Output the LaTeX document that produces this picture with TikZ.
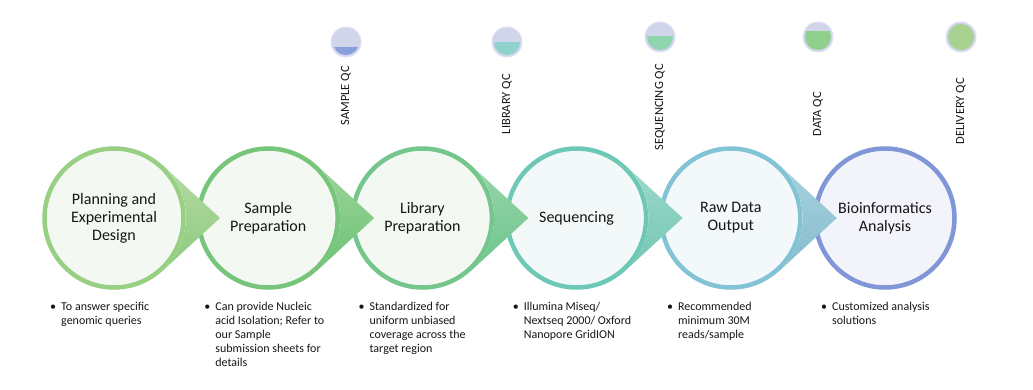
\documentclass[tikz,border=0pt]{standalone}
\usepackage{fontspec}
\setmainfont{Carlito}
\usetikzlibrary{positioning}

\definecolor{ink}{HTML}{161616}
\definecolor{ringA}{HTML}{97CF83}
\definecolor{ringB}{HTML}{76C57A}
\definecolor{ringC}{HTML}{74C68C}
\definecolor{ringD}{HTML}{6EC8B6}
\definecolor{ringE}{HTML}{83C3D6}
\definecolor{ringF}{HTML}{8096D6}
\definecolor{inGreen}{HTML}{F4F8F2}
\definecolor{inTeal}{HTML}{F3F9F8}
\definecolor{inBlue}{HTML}{F3F8FB}
\definecolor{inLilac}{HTML}{F3F4FB}
\definecolor{tipAt}{HTML}{B5DBA5}
\definecolor{tipAb}{HTML}{8CC97D}
\definecolor{tipBt}{HTML}{9DD59A}
\definecolor{tipBb}{HTML}{6CC176}
\definecolor{tipCt}{HTML}{97D5A8}
\definecolor{tipCb}{HTML}{6DC48D}
\definecolor{tipDt}{HTML}{9ED9CA}
\definecolor{tipDb}{HTML}{72C6B2}
\definecolor{tipEt}{HTML}{A8D1DD}
\definecolor{tipEb}{HTML}{84BCCD}
\definecolor{qcbase}{HTML}{D1D5EC}
\definecolor{qcrim}{HTML}{DFE2F4}
\definecolor{qcSample}{HTML}{8B9EDC}
\definecolor{qcLibrary}{HTML}{8FD3CC}
\definecolor{qcSeq}{HTML}{8FD6AE}
\definecolor{qcData}{HTML}{8FD18C}
\definecolor{qcDelivery}{HTML}{A6D18E}

\tikzstyle{stage} = [circle, minimum size=139pt, line width=4.5pt, outer sep=2.25pt, inner sep=0pt,
  align=center, text=ink, font=\fontsize{16}{18}\selectfont]
\tikzstyle{qc} = [circle, minimum size=30pt, inner sep=0pt, fill=qcbase, draw=qcrim, line width=1pt]
\tikzstyle{qclabel} = [rotate=90, anchor=east, inner sep=0pt, text=ink, font=\fontsize{12.5}{14}\selectfont]
\tikzstyle{note} = [anchor=north west, inner sep=0pt, align=left, text=ink, font=\fontsize{12}{14}\selectfont]

\begin{document}
\begin{tikzpicture}[x=1pt, y=-1pt]
  \useasboundingbox (0,0) rectangle (1033,389);
  % process steps
  \foreach \i/\name/\ring/\inside/\txt in {
      0/plan/ringA/inGreen/{Planning and\\Experimental\\Design},
      1/sample/ringB/inGreen/{Sample\\Preparation},
      2/library/ringC/inGreen/{Library\\Preparation},
      3/seq/ringD/inTeal/{Sequencing},
      4/raw/ringE/inBlue/{Raw Data\\Output},
      5/bioinfo/ringF/inLilac/{Bioinformatics\\Analysis}}
    \node[stage, draw=\ring, fill=\inside] (\name) at (114+154.2*\i, 218) {\txt};
  % pointers into the next step
  \foreach \name/\top/\bot in {plan/tipAt/tipAb, sample/tipBt/tipBb, library/tipCt/tipCb,
                               seq/tipDt/tipDb, raw/tipEt/tipEb}
    \shade[top color=\top, bottom color=\bot] (\name.47) -- ([xshift=106pt]\name.center)
      -- (\name.-47) arc[start angle=-47, end angle=47, radius=72pt] -- cycle;
  % QC gauges
  \foreach \name/\x/\y/\lvl/\col/\ly/\txt in {
      sampleqc/346/42/0.3/qcSample/66/SAMPLE QC,
      libraryqc/507/42/0.5/qcLibrary/74/LIBRARY QC,
      seqqc/660/37/0.55/qcSeq/64/SEQUENCING QC,
      dataqc/818/37/0.75/qcData/92/DATA QC,
      deliveryqc/961/37/1.0/qcDelivery/78/DELIVERY QC} {
    \node[qc] (\name) at (\x,\y) {};
    \begin{scope}
      \clip (\name.center) circle (13pt);
      \fill[\col] (\x-16,\y+16) rectangle (\x+16,{\y+13-26*\lvl});
    \end{scope}
    \node[qclabel] (\name-label) at (\x,\ly) {\txt};
  }
  % notes under the steps
  \foreach \i/\name/\txt in {
      0/plan/{To answer specific\\genomic queries},
      1/sample/{Can provide Nucleic\\acid Isolation; Refer to\\our Sample\\submission sheets for\\details},
      2/library/{Standardized for\\uniform unbiased\\coverage across the\\target region},
      3/seq/{Illumina Miseq/\\Nextseq 2000/ Oxford\\Nanopore GridION},
      4/raw/{Recommended\\minimum 30M\\reads/sample},
      5/bioinfo/{Customized analysis\\solutions}}
    \node[note] (\name-note) at (114+154.2*\i-53, 301.5) {\llap{\textbullet\hspace{5pt}}\txt};
\end{tikzpicture}
\end{document}
